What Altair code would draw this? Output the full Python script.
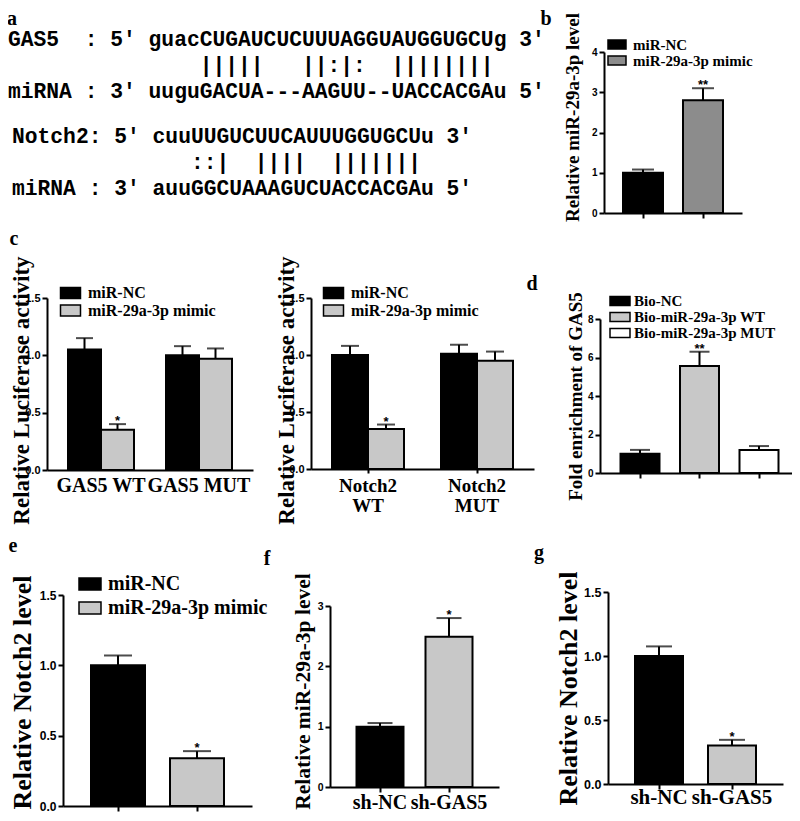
import altair as alt
import pandas as pd

M = 8
W, H = 784, 805
SERIF = "Liberation Serif"
SANS = "Liberation Sans"
MONO = "Liberation Mono"

# ---------------- data ----------------
a_gas5_lines = [
    "GAS5  : 5' guacCUGAUCUCUUUAGGUAUGGUGCUg 3'",
    "               |||||   ||:|:  ||||||||",
    "miRNA : 3' uuguGACUA---AAGUU--UACCACGAu 5'",
]
a_notch2_lines = [
    "Notch2: 5' cuuUUGUCUUCAUUUGGUGCUu 3'",
    "              ::|  ||||  |||||||",
    "miRNA : 3' auuGGCUAAAGUCUACCACGAu 5'",
]
panel_letters = ["a", "b", "c", "d", "e", "f", "g"]

b_groups = ["miR-NC", "miR-29a-3p mimic"]
b_values = [1.0, 2.8]
b_errors = [0.08, 0.30]
b_stars = ["", "**"]

c_series = ["miR-NC", "miR-29a-3p mimic"]
c1_groups = ["GAS5 WT", "GAS5 MUT"]
c1_nc = [1.05, 1.0]
c1_nc_err = [0.10, 0.08]
c1_mimic = [0.35, 0.97]
c1_mimic_err = [0.05, 0.09]
c1_mimic_stars = ["*", ""]

c2_groups = ["Notch2 WT", "Notch2 MUT"]
c2_nc = [1.0, 1.01]
c2_nc_err = [0.08, 0.08]
c2_mimic = [0.35, 0.95]
c2_mimic_err = [0.04, 0.08]
c2_mimic_stars = ["*", ""]

d_groups = ["Bio-NC", "Bio-miR-29a-3p WT", "Bio-miR-29a-3p MUT"]
d_values = [1.0, 5.56, 1.2]
d_errors = [0.2, 0.74, 0.2]
d_stars = ["", "**", ""]

e_groups = ["miR-NC", "miR-29a-3p mimic"]
e_values = [1.0, 0.34]
e_errors = [0.07, 0.05]
e_stars = ["", "*"]

f_groups = ["sh-NC", "sh-GAS5"]
f_values = [1.0, 2.49]
f_errors = [0.06, 0.31]
f_stars = ["", "*"]

g_groups = ["sh-NC", "sh-GAS5"]
g_values = [1.0, 0.30]
g_errors = [0.075, 0.045]
g_stars = ["", "*"]

# ---------------- layout (reference pixel coordinates) ----------------
LAY = {
    "b": dict(ax=604, ay=213, ytop=52, ymax=4, ticks=[0, 1, 2, 3, 4], fmt="d", lfs=10,
              c0=643, step=60, bw=40, cap=22, title="Relative miR-29a-3p level",
              tfs=19, tx=572, ty=117),
    "c1": dict(ax=47, ay=470, ytop=298, ymax=1.5, ticks=[0, 0.5, 1.0, 1.5], fmt=".1f", lfs=11,
               c0=101, step=98, bw=66, cap=17, title="Relative Luciferase activity",
               tfs=23, tx=21, ty=390),
    "c2": dict(ax=311, ay=469, ytop=298, ymax=1.5, ticks=[0, 0.5, 1.0, 1.5], fmt=".1f", lfs=11,
               c0=368, step=109, bw=72, cap=18, title="Relative Luciferase activity",
               tfs=23, tx=286, ty=390),
    "d": dict(ax=600, ay=473, ytop=319, ymax=8, ticks=[0, 2, 4, 6, 8], fmt="d", lfs=10,
              c0=640, step=59.5, bw=39, cap=20, title="Fold enrichment of GAS5",
              tfs=19, tx=575, ty=396),
    "e": dict(ax=63, ay=806, ytop=595, ymax=1.5, ticks=[0, 0.5, 1.0, 1.5], fmt=".1f", lfs=12,
              c0=118, step=79, bw=54, cap=28, title="Relative Notch2 level",
              tfs=26, tx=22, ty=692),
    "f": dict(ax=330, ay=787, ytop=606, ymax=3, ticks=[0, 1, 2, 3], fmt="d", lfs=10.5,
              c0=380, step=69, bw=47, cap=25, title="Relative miR-29a-3p level",
              tfs=21.5, tx=303, ty=691),
    "g": dict(ax=608, ay=784, ytop=592, ymax=1.5, ticks=[0, 0.5, 1.0, 1.5], fmt=".1f", lfs=12.5,
              c0=659, step=73, bw=48, cap=26, title="Relative Notch2 level",
              tfs=26, tx=568, ty=688),
}
LEG = {
    "b": dict(lx=605, lw=18, lh=9, cy=44.5, sp=15, tx=634, fs=15),
    "c1": dict(lx=58, lw=20, lh=11, cy=293, sp=17.5, tx=90, fs=16),
    "c2": dict(lx=321, lw=20, lh=11, cy=293, sp=17.5, tx=353, fs=16),
    "d": dict(lx=607, lw=20, lh=9, cy=301, sp=13.5, tx=635, fs=15),
    "e": dict(lx=75, lw=22, lh=12, cy=584, sp=26, tx=107, fs=20),
}
LETTER_POS = {"a": (12, 25), "b": (546, 25), "c": (14, 245), "d": (532, 290),
              "e": (13, 552), "f": (267, 565), "g": (539, 559)}

BLACK, LGRAY, DGRAY, WHITE = "black", "#c8c8c8", "#8c8c8c", "white"


def band(L, n):
    gap = L["c0"] - L["bw"] / 2 - L["ax"]
    po = gap / L["step"]
    pi = 1 - L["bw"] / L["step"]
    R = L["step"] * (n - pi + 2 * po)
    return dict(range=[L["ax"] - M, L["ax"] - M + R], paddingInner=pi, paddingOuter=po)


def yscale(L):
    return alt.Scale(domain=[0, L["ymax"]], range=[L["ay"] - M, L["ytop"] - M], nice=False, zero=True)


def yaxis(L):
    return alt.Axis(orient="left", offset=-(L["ax"] - M), values=L["ticks"], format=L["fmt"], grid=False,
                    domainColor="black", domainWidth=2, tickColor="black", tickWidth=2, tickSize=5,
                    labelFont=SANS, labelFontWeight="bold", labelFontSize=L["lfs"], labelColor="black",
                    labelPadding=2, title=L["title"], titleFont=SERIF, titleFontWeight="bold",
                    titleFontSize=L["tfs"], titleColor="black", titleX=L["tx"] - L["ax"],
                    titleY=L["ty"] - M, titleAngle=270, titleAlign="center", titleBaseline="middle")


def xaxis(L, labels=True, ticks=True, lfs=20, lpad=0, tsize=5, multiline=False):
    kw = dict(orient="bottom", offset=(L["ay"] - M) - H, labelAngle=0, grid=False,
              domainColor="black", domainWidth=2, ticks=ticks, tickColor="black", tickWidth=2,
              tickSize=tsize, labels=labels, labelFont=SERIF, labelFontWeight="bold", labelFontSize=lfs,
              labelColor="black", labelPadding=lpad, labelLimit=300)
    if multiline:
        kw["labelExpr"] = "split(datum.label, ' ')"
        kw["labelLineHeight"] = 20
    return alt.Axis(**kw)


def legend(G):
    k = G["lw"] / G["lh"]
    path = f"M-{k:.3f},-1L{k:.3f},-1L{k:.3f},1L-{k:.3f},1Z"
    lx = G["lx"] - M - G["lh"] / 2 + G["lw"] / 2
    row_h = G["fs"] + 2
    ly = G["cy"] - M - G["lh"] / 2 - ((row_h - G["lh"]) / 2 - 1)
    return alt.Legend(orient="none", legendX=lx, legendY=ly, title=None,
                      symbolType=path, symbolSize=G["lh"] ** 2, symbolStrokeColor="black",
                      symbolStrokeWidth=1.5, symbolOffset=0, labelOffset=G["tx"] - M - lx - G["lh"] - 7,
                      labelFont=SERIF, labelFontWeight="bold", labelFontSize=G["fs"], labelColor="black",
                      rowPadding=G["sp"] - row_h, padding=0, labelLimit=400)


def simple_panel(groups, values, errors, stars, colors, L, leg=None, xlab=False, xlfs=20, xpad=0):
    df = pd.DataFrame({"cat": groups, "value": values,
                       "hi": [v + e for v, e in zip(values, errors)], "star": stars})
    X = alt.X("cat:N", scale=alt.Scale(domain=groups, **band(L, len(groups))),
              axis=xaxis(L, labels=xlab, lfs=xlfs, lpad=xpad), title=None)
    ys, ya = yscale(L), yaxis(L)
    base = alt.Chart(df)
    bars = base.mark_bar(stroke="black", strokeWidth=2).encode(
        x=X, y=alt.Y("value:Q", scale=ys, axis=ya, stack=None),
        color=alt.Color("cat:N", scale=alt.Scale(domain=groups, range=colors),
                        legend=legend(leg) if leg else None))
    rule = base.mark_rule(color="black", strokeWidth=2).encode(
        x=X, y=alt.Y("value:Q", scale=ys, axis=ya), y2="hi:Q")
    cap = base.mark_tick(color="black", size=L["cap"], thickness=2).encode(
        x=X, y=alt.Y("hi:Q", scale=ys, axis=ya))
    star = base.mark_text(font=SANS, fontWeight="bold", fontSize=13, baseline="alphabetic", dy=1,
                          color="black").encode(x=X, y=alt.Y("hi:Q", scale=ys, axis=ya), text="star:N")
    return alt.layer(bars, rule, cap, star)


def grouped_panel(groups, nc, nc_err, mimic, mimic_err, mimic_stars, L, leg, xax):
    n = len(groups)
    df = pd.DataFrame({
        "grp": groups * 2,
        "series": [c_series[0]] * n + [c_series[1]] * n,
        "value": nc + mimic,
        "hi": [v + e for v, e in zip(nc + mimic, nc_err + mimic_err)],
        "star": [""] * n + mimic_stars,
    })
    X = alt.X("grp:N", scale=alt.Scale(domain=groups, **band(L, n)), axis=xax, title=None)
    XO = alt.XOffset("series:N", scale=alt.Scale(domain=c_series, paddingInner=0, paddingOuter=0))
    ys, ya = yscale(L), yaxis(L)
    base = alt.Chart(df)
    bars = base.mark_bar(stroke="black", strokeWidth=2).encode(
        x=X, xOffset=XO, y=alt.Y("value:Q", scale=ys, axis=ya, stack=None),
        color=alt.Color("series:N", scale=alt.Scale(domain=c_series, range=[BLACK, LGRAY]),
                        legend=legend(leg)))
    rule = base.mark_rule(color="black", strokeWidth=2).encode(
        x=X, xOffset=XO, y=alt.Y("value:Q", scale=ys, axis=ya), y2="hi:Q")
    cap = base.mark_tick(color="black", size=L["cap"], thickness=2).encode(
        x=X, xOffset=XO, y=alt.Y("hi:Q", scale=ys, axis=ya))
    star = base.mark_text(font=SANS, fontWeight="bold", fontSize=13, baseline="alphabetic", dy=1,
                          color="black").encode(x=X, xOffset=XO, y=alt.Y("hi:Q", scale=ys, axis=ya),
                                                text="star:N")
    return alt.layer(bars, rule, cap, star)


panel_b = simple_panel(b_groups, b_values, b_errors, b_stars, [BLACK, DGRAY], LAY["b"], LEG["b"])
panel_c1 = grouped_panel(c1_groups, c1_nc, c1_nc_err, c1_mimic, c1_mimic_err, c1_mimic_stars,
                         LAY["c1"], LEG["c1"],
                         xaxis(LAY["c1"], labels=True, ticks=False, lfs=20, lpad=5))
panel_c2 = grouped_panel(c2_groups, c2_nc, c2_nc_err, c2_mimic, c2_mimic_err, c2_mimic_stars,
                         LAY["c2"], LEG["c2"],
                         xaxis(LAY["c2"], labels=True, ticks=True, tsize=4, lfs=19, lpad=3, multiline=True))
panel_d = simple_panel(d_groups, d_values, d_errors, d_stars, [BLACK, LGRAY, WHITE], LAY["d"], LEG["d"])
panel_e = simple_panel(e_groups, e_values, e_errors, e_stars, [BLACK, LGRAY], LAY["e"], LEG["e"])
panel_f = simple_panel(f_groups, f_values, f_errors, f_stars, [BLACK, LGRAY], LAY["f"],
                       xlab=True, xlfs=20, xpad=0)
panel_g = simple_panel(g_groups, g_values, g_errors, g_stars, [BLACK, LGRAY], LAY["g"],
                       xlab=True, xlfs=21, xpad=-3)


def seq_block(lines, x, y_first):
    # zero-width space keeps leading (non-breaking) spaces from being trimmed
    txt = "\n".join("\u200b" + l.replace(" ", "\u00a0") for l in lines)
    return alt.Chart(pd.DataFrame({"t": [txt]})).mark_text(
        font=MONO, fontWeight="bold", fontSize=21.3, lineHeight=26, lineBreak="\n",
        align="left", baseline="middle", color="black").encode(
        x=alt.value(x - M), y=alt.value(y_first - M), text="t:N")


texts = [seq_block(a_gas5_lines, 8, 40), seq_block(a_notch2_lines, 12, 137)]
for letter in panel_letters:
    px, py = LETTER_POS[letter]
    texts.append(alt.Chart(pd.DataFrame({"t": [letter]})).mark_text(
        font=SERIF, fontWeight="bold", fontSize=20, align="center", baseline="alphabetic",
        color="black").encode(x=alt.value(px - M), y=alt.value(py - M), text="t:N"))

chart = alt.layer(panel_b, panel_c1, panel_c2, panel_d, panel_e, panel_f, panel_g, *texts).resolve_scale(
    x="independent", y="independent", color="independent", xOffset="independent"
).properties(
    width=W, height=H, autosize=alt.AutoSizeParams(type="none"), padding=0
).configure_view(stroke=None)

chart.save("out.html", embed_options={"renderer": "svg", "actions": False})
